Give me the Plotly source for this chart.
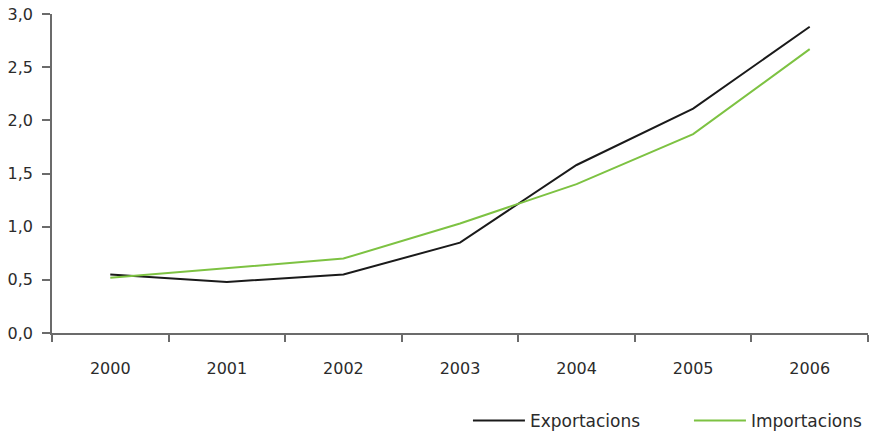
import plotly.graph_objects as go

years = ["2000", "2001", "2002", "2003", "2004", "2005", "2006"]
exportacions = [0.55, 0.48, 0.55, 0.85, 1.58, 2.11, 2.88]
importacions = [0.52, 0.61, 0.70, 1.03, 1.40, 1.87, 2.67]
y_ticks = [0.0, 0.5, 1.0, 1.5, 2.0, 2.5, 3.0]

fig = go.Figure()
fig.add_trace(go.Scatter(x=years, y=exportacions, mode="lines", name="Exportacions",
                         line=dict(color="#1a1a1a", width=2)))
fig.add_trace(go.Scatter(x=years, y=importacions, mode="lines", name="Importacions",
                         line=dict(color="#7dc242", width=2)))

axis_color = "#6b6b6b"
fig.update_layout(
    width=872, height=432,
    margin=dict(l=52, r=4, t=14, b=99, autoexpand=False),
    paper_bgcolor="white", plot_bgcolor="white",
    separators=",.",
    font=dict(family="DejaVu Sans, sans-serif", size=16, color="#2b2b2b"),
    showlegend=True,
    legend=dict(orientation="h", x=1.0514, xanchor="right", y=-0.219, yanchor="top",
                font=dict(size=17, color="#2b2b2b"), itemwidth=52,
                entrywidth=154, entrywidthmode="pixels",
                traceorder="normal", bgcolor="rgba(0,0,0,0)"),
    xaxis=dict(type="category", range=[-0.5, 6.5], showgrid=False, automargin=False,
               showline=True, linecolor=axis_color, linewidth=1.5,
               ticks="outside", tickson="boundaries", ticklen=7,
               tickcolor=axis_color, tickwidth=1.5,
               ticklabelstandoff=20, zeroline=False),
    yaxis=dict(range=[0, 3.0], tickvals=y_ticks, tickformat=".1f", showgrid=False,
               automargin=False,
               showline=True, linecolor=axis_color, linewidth=1.5,
               ticks="outside", ticklen=8, tickcolor=axis_color, tickwidth=1.5,
               ticklabelstandoff=6, zeroline=False),
)

post = (
    "document.documentElement.style.margin='0';"
    "document.body.style.margin='0';"
    "document.body.style.overflow='hidden';"
)
fig.write_html("out.html", config={"displayModeBar": False}, post_script=post)
